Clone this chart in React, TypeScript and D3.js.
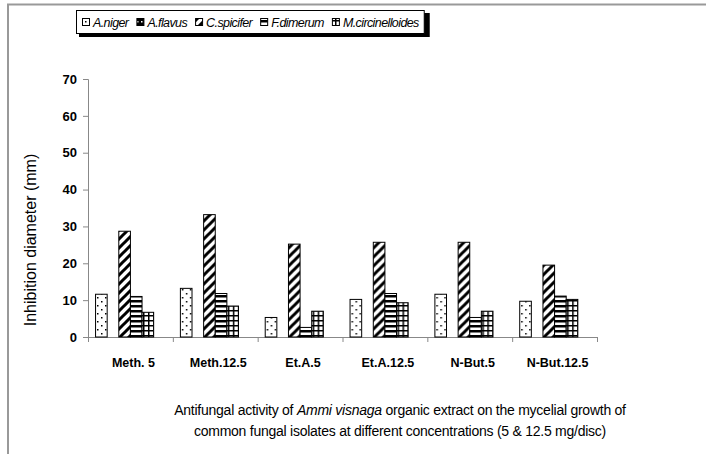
import React, { useEffect, useRef } from "react";
import * as d3 from "d3";

// solvents / concentrations
const categories = ["Meth. 5", "Meth.12.5", "Et.A.5", "Et.A.12.5", "N-But.5", "N-But.12.5"];
const seriesNames = ["A.niger", "A.flavus", "C.spicifer", "F.dimerum", "M.circinelloides"];

// inhibition diameter (mm) per fungus, one value per category
const aNiger = [11.6, 13.2, 5.3, 10.2, 11.6, 9.7];
const aFlavus = [0, 0, 0, 0, 0, 0];
const cSpicifer = [28.7, 33.2, 25.2, 25.7, 25.7, 19.5];
const fDimerum = [11.0, 11.8, 2.6, 11.8, 5.3, 11.1];
const mCircinelloides = [6.7, 8.4, 7.0, 9.3, 7.0, 10.2];

const yTicks = [0, 10, 20, 30, 40, 50, 60, 70];

const seriesValues = [aNiger, aFlavus, cSpicifer, fDimerum, mCircinelloides];
const patternIds = ["p-dots", "p-flavus", "p-diag", "p-horiz", "p-grid"];

const App = () => {
  const ref = useRef<SVGSVGElement>(null);

  useEffect(() => {
    const svg = d3.select(ref.current);
    svg.selectAll("*").remove();

    const font = "Arial, 'Liberation Sans', sans-serif";
    const x0 = d3.scaleBand().domain(categories).range([88, 597]).padding(0);
    // Excel leaves room for one extra slot in each cluster
    const x1 = d3
      .scaleBand<number>()
      .domain(d3.range(6))
      .range([0, x0.bandwidth()])
      .paddingInner(0)
      .paddingOuter(0.65);
    const y = d3.scaleLinear().domain([0, 70]).range([337, 79]);

    // fill patterns
    const defs = svg.append("defs");
    const dots = defs.append("pattern").attr("id", "p-dots").attr("patternUnits", "userSpaceOnUse")
      .attr("width", 8).attr("height", 8);
    dots.append("rect").attr("width", 8).attr("height", 8).attr("fill", "#fff");
    dots.append("rect").attr("x", 1).attr("y", 1).attr("width", 1.5).attr("height", 1.5).attr("fill", "#000");
    dots.append("rect").attr("x", 5).attr("y", 5).attr("width", 1.5).attr("height", 1.5).attr("fill", "#000");

    const fl = defs.append("pattern").attr("id", "p-flavus").attr("patternUnits", "userSpaceOnUse")
      .attr("width", 4).attr("height", 4);
    fl.append("rect").attr("width", 4).attr("height", 4).attr("fill", "#000");
    fl.append("rect").attr("x", 1).attr("y", 1).attr("width", 1.5).attr("height", 1.5).attr("fill", "#fff");

    const diag = defs.append("pattern").attr("id", "p-diag").attr("patternUnits", "userSpaceOnUse")
      .attr("width", 9).attr("height", 9);
    diag.append("rect").attr("width", 9).attr("height", 9).attr("fill", "#fff");
    diag.append("path").attr("d", "M-2,2 L2,-2 M0,9 L9,0 M7,11 L11,7")
      .attr("stroke", "#000").attr("stroke-width", 3);

    const hz = defs.append("pattern").attr("id", "p-horiz").attr("patternUnits", "userSpaceOnUse")
      .attr("width", 5).attr("height", 5);
    hz.append("rect").attr("width", 5).attr("height", 5).attr("fill", "#fff");
    hz.append("rect").attr("y", 0).attr("width", 5).attr("height", 2.5).attr("fill", "#000");

    const gr = defs.append("pattern").attr("id", "p-grid").attr("patternUnits", "userSpaceOnUse")
      .attr("width", 5).attr("height", 5);
    gr.append("rect").attr("width", 5).attr("height", 5).attr("fill", "#fff");
    gr.append("rect").attr("width", 5).attr("height", 1.5).attr("fill", "#000");
    gr.append("rect").attr("width", 1.5).attr("height", 5).attr("fill", "#000");

    // outer frame (top and left edges only visible)
    svg.append("line").attr("x1", 7).attr("x2", 706).attr("y1", 4.5).attr("y2", 4.5)
      .attr("stroke", "#999").attr("stroke-width", 2);
    svg.append("line").attr("x1", 8).attr("x2", 8).attr("y1", 4).attr("y2", 454)
      .attr("stroke", "#999").attr("stroke-width", 2);

    // Y axis
    const yAxis = svg.append("g").attr("transform", "translate(88,0)")
      .call(d3.axisLeft(y).tickValues(yTicks).tickSize(5).tickPadding(6));
    yAxis.select(".domain").attr("stroke", "#888");
    yAxis.selectAll(".tick line").attr("stroke", "#888");
    yAxis.selectAll("text").attr("font-family", font).attr("font-size", 13)
      .attr("font-weight", "bold").attr("fill", "#000");

    svg.append("text")
      .attr("transform", "translate(36,240) rotate(-90)")
      .attr("text-anchor", "middle")
      .attr("font-family", font).attr("font-size", 16)
      .text("Inhibition diameter (mm)");

    // X axis with ticks at category boundaries
    const xAxis = svg.append("g");
    xAxis.append("line").attr("x1", 88).attr("x2", 597).attr("y1", 337.5).attr("y2", 337.5)
      .attr("stroke", "#888");
    xAxis.selectAll(".bt")
      .data(categories.concat(["end"]))
      .enter()
      .append("line")
      .attr("x1", (d, i) => (i < categories.length ? x0(d)! : x0.range()[1]) + 0.5)
      .attr("x2", (d, i) => (i < categories.length ? x0(d)! : x0.range()[1]) + 0.5)
      .attr("y1", 337).attr("y2", 342).attr("stroke", "#888");
    xAxis.selectAll(".lbl")
      .data(categories)
      .enter()
      .append("text")
      .attr("x", (d) => x0(d)! + x0.bandwidth() / 2 + 3)
      .attr("y", 367)
      .attr("text-anchor", "middle")
      .attr("font-family", font).attr("font-size", 12.5).attr("font-weight", "bold")
      .text((d) => d);

    // Bars
    const groups = svg.selectAll(".grp")
      .data(categories)
      .enter()
      .append("g")
      .attr("transform", (d) => `translate(${x0(d)},0)`);
    groups.selectAll("rect")
      .data((d, ci) => seriesValues.map((vals, si) => ({ si, v: vals[ci] })))
      .enter()
      .filter((d) => d.v > 0)
      .append("rect")
      .attr("x", (d) => x1(d.si)!)
      .attr("y", (d) => y(d.v))
      .attr("width", x1.bandwidth())
      .attr("height", (d) => y(0) - y(d.v))
      .attr("fill", (d) => `url(#${patternIds[d.si]})`)
      .attr("stroke", "#000")
      .attr("stroke-width", 1);

    // Legend with drop shadow, items laid out one after another
    const lg = svg.append("g");
    const shadow = lg.append("rect").attr("fill", "#000");
    const box = lg.append("rect").attr("fill", "#fff").attr("stroke", "#000");
    let cx = 82;
    seriesNames.forEach((name, i) => {
      lg.append("rect").attr("x", cx + 0.5).attr("y", 18.5).attr("width", 7).attr("height", 7)
        .attr("fill", `url(#${patternIds[i]})`).attr("stroke", "#000");
      const t = lg.append("text").attr("x", cx + 11).attr("y", 27)
        .attr("font-family", font).attr("font-size", 12.5).attr("font-style", "italic")
        .attr("letter-spacing", -0.6)
        .text(name);
      const w = (t.node() as SVGTextElement).getComputedTextLength();
      cx += 11 + w + 8;
    });
    const boxW = cx - 8 + 5 - 76;
    box.attr("x", 76.5).attr("y", 10.5).attr("width", boxW).attr("height", 23);
    shadow.attr("x", 79).attr("y", 13).attr("width", boxW + 3).attr("height", 24);

    // caption
    const cap1 = svg.append("text").attr("x", 400).attr("y", 415).attr("text-anchor", "middle")
      .attr("font-family", font).attr("font-size", 14).attr("letter-spacing", -0.25);
    cap1.append("tspan").text("Antifungal activity of ");
    cap1.append("tspan").attr("font-style", "italic").text("Ammi visnaga");
    cap1.append("tspan").text(" organic extract on the mycelial growth of");
    svg.append("text").attr("x", 400).attr("y", 436).attr("text-anchor", "middle")
      .attr("font-family", font).attr("font-size", 14).attr("letter-spacing", -0.25)
      .text("common fungal isolates at different concentrations (5 & 12.5 mg/disc)");
  }, []);

  return (
    <div style={{ position: "absolute", left: 0, top: 0 }}>
      <svg ref={ref} width={706} height={454} style={{ display: "block", background: "#fff" }}></svg>
    </div>
  );
};

export default App;
